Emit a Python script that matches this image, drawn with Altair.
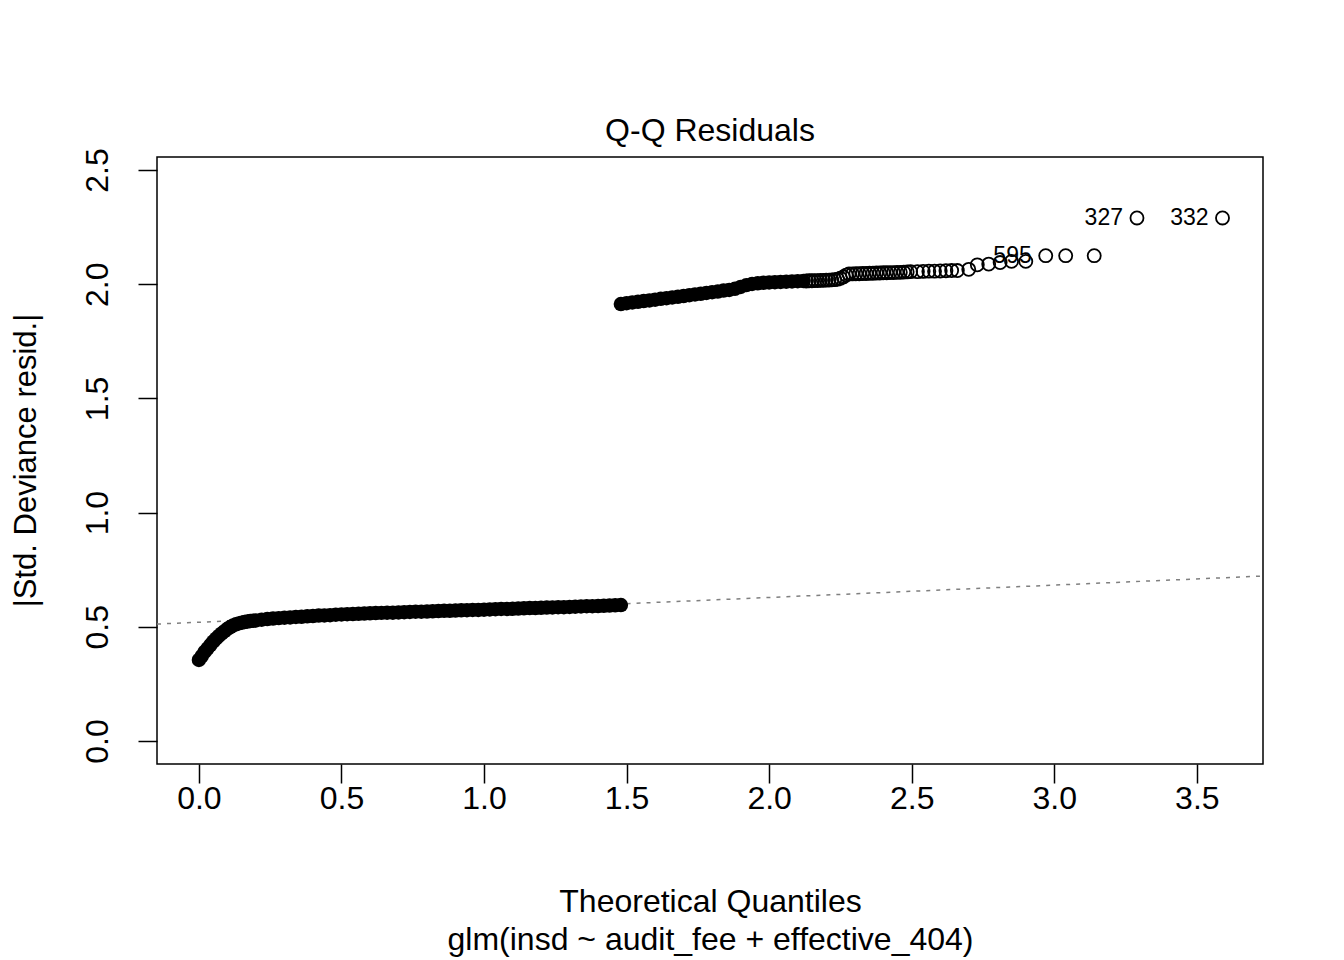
import altair as alt
import pandas as pd

FONT = "Liberation Sans"

# ---- data ----
# dense lower run (drawn as a solid run of markers)
lower_x = [0.00, 0.01, 0.02, 0.03, 0.04, 0.05, 0.06, 0.07, 0.08, 0.09, 0.10, 0.11,
           0.12, 0.13, 0.14, 0.15, 0.16, 0.17, 0.18, 0.19, 0.20, 0.22, 0.24, 0.26, 0.28,
           0.30, 0.32, 0.34, 0.36, 0.38, 0.40, 0.42, 0.44, 0.46, 0.48, 0.50, 0.52, 0.54,
           0.56, 0.58, 0.60, 0.62, 0.64, 0.66, 0.68, 0.70, 0.72, 0.74, 0.76, 0.78, 0.80,
           0.82, 0.84, 0.86, 0.88, 0.90, 0.92, 0.94, 0.96, 0.98, 1.00, 1.02, 1.04, 1.06,
           1.08, 1.10, 1.12, 1.14, 1.16, 1.18, 1.20, 1.22, 1.24, 1.26, 1.28, 1.30, 1.32,
           1.34, 1.36, 1.38, 1.40, 1.42, 1.44, 1.46, 1.48]
lower_y = [0.355, 0.372, 0.390, 0.405, 0.420, 0.435, 0.448, 0.460, 0.471, 0.481, 0.491, 0.499,
           0.506, 0.511, 0.515, 0.518, 0.521, 0.523, 0.525, 0.527, 0.528, 0.531, 0.534, 0.536, 0.538,
           0.540, 0.541, 0.543, 0.544, 0.546, 0.547, 0.549, 0.550, 0.551, 0.553, 0.554, 0.555, 0.556,
           0.557, 0.558, 0.559, 0.560, 0.561, 0.562, 0.562, 0.563, 0.564, 0.565, 0.566, 0.566, 0.567,
           0.568, 0.569, 0.570, 0.570, 0.571, 0.572, 0.573, 0.574, 0.574, 0.575, 0.576, 0.577, 0.578,
           0.578, 0.579, 0.580, 0.581, 0.582, 0.582, 0.583, 0.584, 0.585, 0.586, 0.586, 0.587, 0.588,
           0.589, 0.590, 0.590, 0.591, 0.592, 0.593, 0.594, 0.595]

# dense start of the upper run
upper_solid_x = [1.48, 1.50, 1.52, 1.54, 1.56, 1.58, 1.60, 1.62, 1.64, 1.66, 1.68, 1.70,
                 1.72, 1.74, 1.76, 1.78, 1.80, 1.82, 1.84, 1.86, 1.88, 1.90, 1.92, 1.94,
                 1.96, 1.98, 2.00, 2.02, 2.04, 2.06, 2.08, 2.10, 2.12]
upper_solid_y = [1.913, 1.917, 1.920, 1.923, 1.926, 1.929, 1.932, 1.936, 1.939, 1.942, 1.945, 1.948,
                 1.952, 1.955, 1.958, 1.962, 1.965, 1.968, 1.972, 1.975, 1.980, 1.988, 1.996, 2.001,
                 2.004, 2.006, 2.008, 2.009, 2.010, 2.011, 2.012, 2.013, 2.014]

# open circles of the upper run
open_x = [2.13, 2.14, 2.15, 2.16, 2.17, 2.18, 2.19, 2.20, 2.21, 2.22, 2.23, 2.24, 2.25, 2.26, 2.27,
          2.28, 2.292, 2.304, 2.316, 2.328, 2.340, 2.352, 2.364, 2.376, 2.388, 2.400, 2.412,
          2.424, 2.436, 2.448, 2.460, 2.472, 2.484, 2.496,
          2.52, 2.54, 2.56, 2.58, 2.60, 2.62, 2.64, 2.66,
          2.70, 2.73, 2.77, 2.81, 2.85, 2.90, 2.97, 3.04, 3.14, 3.29, 3.59]
open_y = [2.014, 2.015, 2.015, 2.016, 2.016, 2.017, 2.017, 2.018, 2.018, 2.019, 2.020, 2.022,
          2.026, 2.032, 2.040,
          2.045, 2.045, 2.046, 2.046, 2.047, 2.047, 2.048, 2.048, 2.049, 2.049, 2.050, 2.050,
          2.051, 2.051, 2.052, 2.052, 2.053, 2.054, 2.055,
          2.055, 2.056, 2.057, 2.057, 2.058, 2.059, 2.060, 2.060,
          2.065, 2.085, 2.088, 2.095, 2.100, 2.100, 2.125, 2.125, 2.125, 2.290, 2.290]

label_x = [2.97, 3.29, 3.59]
label_y = [2.125, 2.290, 2.290]
label_text = ["595", "327", "332"]

qq_intercept = 0.520
qq_slope = 0.0542

x_domain = [-0.147, 3.732]
y_domain = [-0.1007, 2.557]
x_ticks = [0.0, 0.5, 1.0, 1.5, 2.0, 2.5, 3.0, 3.5]
y_ticks = [0.0, 0.5, 1.0, 1.5, 2.0, 2.5]

# ---- tables ----
solid_df = pd.DataFrame({"x": lower_x + upper_solid_x, "y": lower_y + upper_solid_y})
open_df = pd.DataFrame({"x": open_x, "y": open_y})
label_df = pd.DataFrame({"x": label_x, "y": label_y, "t": label_text})
line_df = pd.DataFrame({"x": x_domain,
                        "y": [qq_intercept + qq_slope * v for v in x_domain]})

xs = alt.Scale(domain=x_domain, nice=False, zero=False)
ys = alt.Scale(domain=y_domain, nice=False, zero=False)

FS = 32

x_axis = alt.Axis(values=x_ticks, format=".1f", grid=False, domain=False,
                  tickSize=19, tickWidth=1.5, tickColor="black",
                  labelFontSize=FS, labelFont=FONT, labelColor="black",
                  labelPadding=0, labelBaseline="top", labelFlush=False,
                  title=["Theoretical Quantiles", "glm(insd ~ audit_fee + effective_404)"],
                  titleFont=FONT, titleFontSize=FS, titleFontWeight="normal",
                  titleColor="black", titleLineHeight=38,
                  titleBaseline="alphabetic", titleY=147)
y_axis = alt.Axis(values=y_ticks, format=".1f", grid=False, domain=False,
                  tickSize=19, tickWidth=1.5, tickColor="black",
                  labelFontSize=FS, labelFont=FONT, labelColor="black",
                  labelAngle=270, labelAlign="center", labelBaseline="alphabetic",
                  labelPadding=31, labelFlush=False,
                  title="|Std. Deviance resid.|",
                  titleFont=FONT, titleFontSize=31, titleFontWeight="normal",
                  titleColor="black", titleAngle=270, titleBaseline="alphabetic",
                  titleX=-122, titleY=303)

X = alt.X("x:Q", scale=xs, axis=x_axis)
Y = alt.Y("y:Q", scale=ys, axis=y_axis)

line = alt.Chart(line_df).mark_line(
    color="#7f7f7f", strokeDash=[4, 6], strokeWidth=1.5, clip=True
).encode(x=X, y=Y)

solid = alt.Chart(solid_df).mark_point(
    shape="circle", filled=True, color="black", size=210, opacity=1
).encode(x=X, y=Y)

opens = alt.Chart(open_df).mark_point(
    shape="circle", filled=False, color="black", size=170, strokeWidth=1.8, opacity=1
).encode(x=X, y=Y)

labels = alt.Chart(label_df).mark_text(
    align="right", baseline="middle", dx=-14, fontSize=23, font=FONT, color="black"
).encode(x=X, y=Y, text="t:N")

chart = alt.layer(line, solid, opens, labels).properties(
    width=1106, height=607,
    autosize=alt.AutoSizeParams(type="none"),
    padding={"left": 149, "top": 149, "right": 73, "bottom": 200},
    title=alt.TitleParams("Q-Q Residuals", font=FONT, fontSize=FS, fontWeight="normal",
                          color="black", anchor="middle", baseline="alphabetic",
                          offset=16, dy=41, frame="group"),
).configure(background="white").configure_view(stroke="black", strokeWidth=1.5)

chart.save("out.html", embed_options={"renderer": "svg", "actions": False})
